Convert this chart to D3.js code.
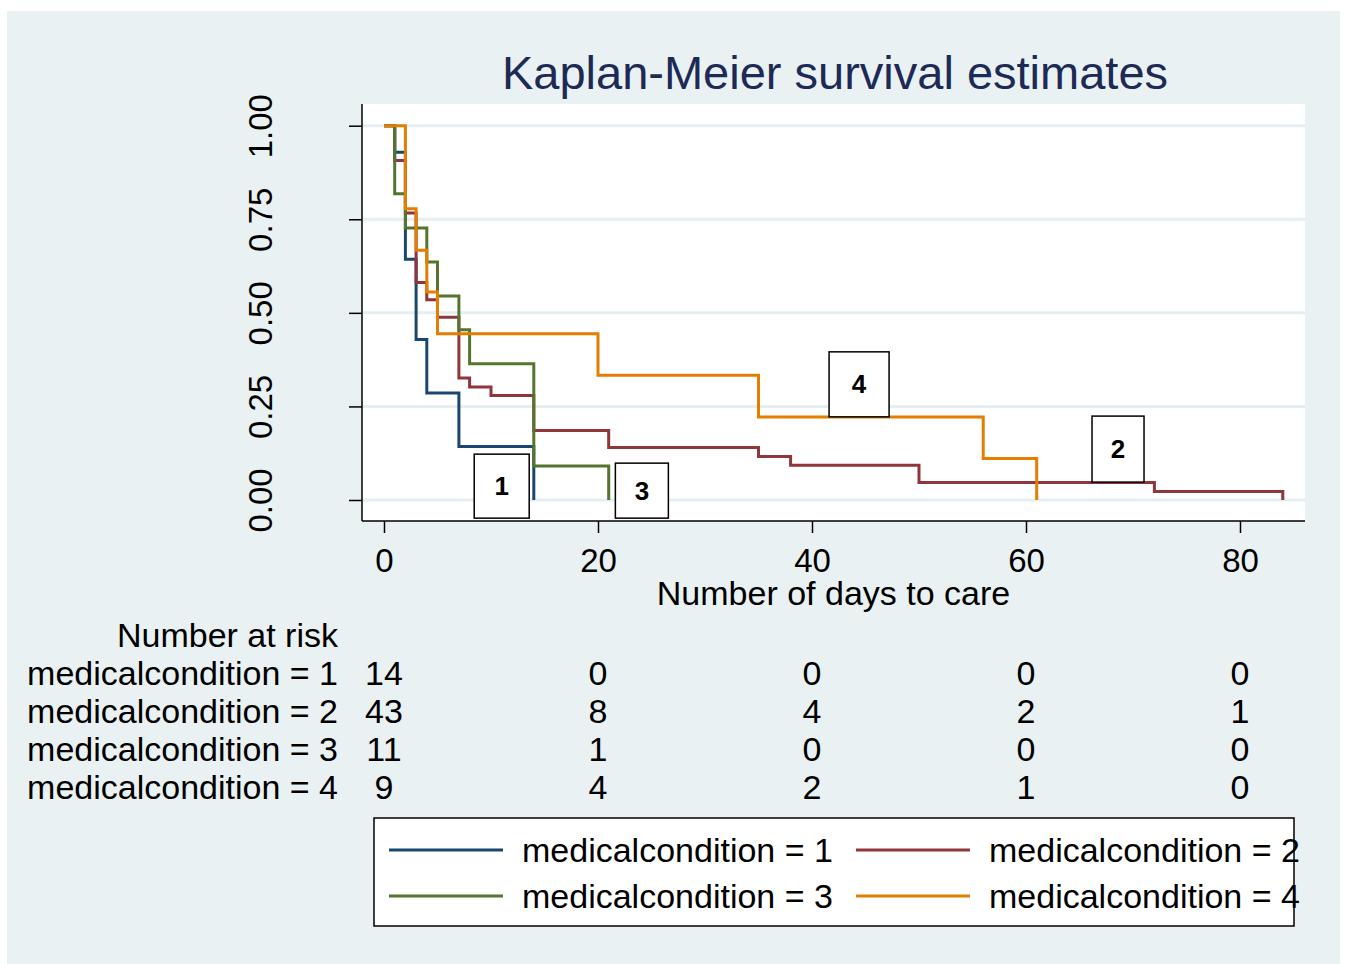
<!DOCTYPE html>
<html>
<head>
<meta charset="utf-8">
<script src="https://cdn.jsdelivr.net/npm/d3@7"></script>
<style>
  body { margin: 0; background: #fff; }
  text { font-family: "Liberation Sans", Arial, sans-serif; }
</style>
</head>
<body>
<div id="my_dataviz"></div>
<script>
// data
const groups = ["medicalcondition = 1", "medicalcondition = 2", "medicalcondition = 3", "medicalcondition = 4"];

const times1 = [0, 1, 2, 3, 4, 7, 14];
const surv1  = [1, 0.929, 0.643, 0.429, 0.286, 0.143, 0];

const times2 = [0, 1, 2, 3, 4, 5, 7, 8, 10, 14, 21, 35, 38, 50, 72, 84];
const surv2  = [1, 0.907, 0.767, 0.581, 0.535, 0.488, 0.326, 0.302, 0.279, 0.186, 0.140, 0.116, 0.093, 0.047, 0.023, 0];

const times3 = [0, 1, 2, 4, 5, 7, 8, 14, 21];
const surv3  = [1, 0.818, 0.727, 0.636, 0.545, 0.455, 0.364, 0.091, 0];

const times4 = [0, 2, 3, 4, 5, 20, 35, 56, 61];
const surv4  = [1, 0.778, 0.667, 0.556, 0.444, 0.333, 0.222, 0.111, 0];

const xTicks = [0, 20, 40, 60, 80];
const yTicks = [0, 0.25, 0.5, 0.75, 1];

const atRisk1 = [14, 0, 0, 0, 0];
const atRisk2 = [43, 8, 4, 2, 1];
const atRisk3 = [11, 1, 0, 0, 0];
const atRisk4 = [9, 4, 2, 1, 0];

// curve labels (text, time, survival at box centre)
const labelText = ["1", "2", "3", "4"];
const labelTime = [11, 68.6, 24.1, 44.4];
const labelSurv = [0.037, 0.136, 0.025, 0.309];

const colors = ["#1a476f", "#90353b", "#55752f", "#e37e00"];
const labelSize = [[55, 64], [52, 66], [53, 55], [60, 65]];

const series = [
  {times: times1, surv: surv1},
  {times: times2, surv: surv2},
  {times: times3, surv: surv3},
  {times: times4, surv: surv4}
];
const atRisk = [atRisk1, atRisk2, atRisk3, atRisk4];

const W = 1345, H = 964;
const plot = {left: 362, right: 1305, top: 104, bottom: 521};
const fs = "34px";

const svg = d3.select("#my_dataviz")
  .append("svg")
    .attr("width", W)
    .attr("height", H);

// outer panel
svg.append("rect")
  .attr("x", 7).attr("y", 11)
  .attr("width", 1333).attr("height", H - 11)
  .attr("fill", "#eaf1f3");

// plot region
svg.append("rect")
  .attr("x", plot.left).attr("y", plot.top)
  .attr("width", plot.right - plot.left).attr("height", plot.bottom - plot.top)
  .attr("fill", "#fff");

const x = d3.scaleLinear()
  .domain([0, 80])
  .range([384, 1240]);

const y = d3.scaleLinear()
  .domain([0, 1])
  .range([500, 125.7]);

// grid lines
svg.selectAll("grid")
  .data(yTicks)
  .enter()
  .append("line")
    .attr("x1", plot.left)
    .attr("x2", plot.right)
    .attr("y1", d => y(d))
    .attr("y2", d => y(d))
    .attr("stroke", "#e6eef1")
    .attr("stroke-width", 3);

// title
svg.append("text")
  .attr("x", 835)
  .attr("y", 89)
  .attr("text-anchor", "middle")
  .style("font-size", "47px")
  .style("fill", "#1c2a55")
  .text("Kaplan-Meier survival estimates");

// Y axis
const yAxis = svg.append("g")
  .attr("transform", `translate(${plot.left},0)`)
  .call(d3.axisLeft(y).tickValues(yTicks).tickFormat(d3.format(".2f")).tickSize(13).tickSizeOuter(0));
yAxis.select(".domain").remove();
yAxis.selectAll("line").attr("stroke", "#000").attr("stroke-width", 1.5);
yAxis.selectAll("text")
  .attr("transform", "rotate(-90)")
  .attr("x", 0)
  .attr("y", -90)
  .attr("dy", 0)
  .style("text-anchor", "middle")
  .style("font-size", "33px")
  .style("fill", "#000");

// X axis
const xAxis = svg.append("g")
  .attr("transform", `translate(0,${plot.bottom})`)
  .call(d3.axisBottom(x).tickValues(xTicks).tickSize(12).tickSizeOuter(0));
xAxis.select(".domain").remove();
xAxis.selectAll("line").attr("stroke", "#000").attr("stroke-width", 1.5);
xAxis.selectAll("text")
  .attr("y", 51)
  .attr("dy", 0)
  .style("font-size", "33px")
  .style("fill", "#000");

// axis lines
svg.append("line")
  .attr("x1", plot.left).attr("x2", plot.left)
  .attr("y1", plot.top).attr("y2", plot.bottom)
  .attr("stroke", "#000").attr("stroke-width", 1.5);
svg.append("line")
  .attr("x1", plot.left).attr("x2", plot.right)
  .attr("y1", plot.bottom).attr("y2", plot.bottom)
  .attr("stroke", "#000").attr("stroke-width", 1.5);

svg.append("text")
  .attr("x", (plot.left + plot.right) / 2)
  .attr("y", 605)
  .attr("text-anchor", "middle")
  .style("font-size", fs)
  .text("Number of days to care");

// survival curves
const line = d3.line()
  .x(d => x(d[0]))
  .y(d => y(d[1]))
  .curve(d3.curveStepAfter);

series.forEach(function(s, i) {
  svg.append("path")
    .datum(s.times.map((t, k) => [t, s.surv[k]]))
    .attr("d", line)
    .attr("fill", "none")
    .attr("stroke", colors[i])
    .attr("stroke-width", 3);
});

// curve labels
labelText.forEach(function(t, i) {
  const cx = x(labelTime[i]), cy = y(labelSurv[i]);
  const w = labelSize[i][0], h = labelSize[i][1];
  svg.append("rect")
    .attr("x", cx - w / 2).attr("y", cy - h / 2)
    .attr("width", w).attr("height", h)
    .attr("fill", "#fff")
    .attr("stroke", "#000")
    .attr("stroke-width", 1.5);
  svg.append("text")
    .attr("x", cx)
    .attr("y", cy + 9)
    .attr("text-anchor", "middle")
    .style("font-size", "26px")
    .style("font-weight", "bold")
    .text(t);
});

// number at risk table
svg.append("text")
  .attr("x", 338)
  .attr("y", 647)
  .attr("text-anchor", "end")
  .style("font-size", fs)
  .text("Number at risk");

groups.forEach(function(g, i) {
  const ty = 685 + i * 38;
  svg.append("text")
    .attr("x", 338)
    .attr("y", ty)
    .attr("text-anchor", "end")
    .style("font-size", fs)
    .text(g);
  svg.selectAll("risk" + i)
    .data(atRisk[i])
    .enter()
    .append("text")
      .attr("x", (d, k) => x(xTicks[k]))
      .attr("y", ty)
      .attr("text-anchor", "middle")
      .style("font-size", fs)
      .text(d => d);
});

// legend
svg.append("rect")
  .attr("x", 374).attr("y", 818)
  .attr("width", 920).attr("height", 108)
  .attr("fill", "#fff")
  .attr("stroke", "#000")
  .attr("stroke-width", 1.5);

groups.forEach(function(g, i) {
  const col = i % 2, row = Math.floor(i / 2);
  const lx = 389 + col * 467, ly = 850 + row * 46;
  svg.append("line")
    .attr("x1", lx).attr("x2", lx + 114)
    .attr("y1", ly).attr("y2", ly)
    .attr("stroke", colors[i])
    .attr("stroke-width", 3);
  svg.append("text")
    .attr("x", lx + 133)
    .attr("y", ly + 12)
    .style("font-size", fs)
    .text(g);
});
</script>
</body>
</html>
